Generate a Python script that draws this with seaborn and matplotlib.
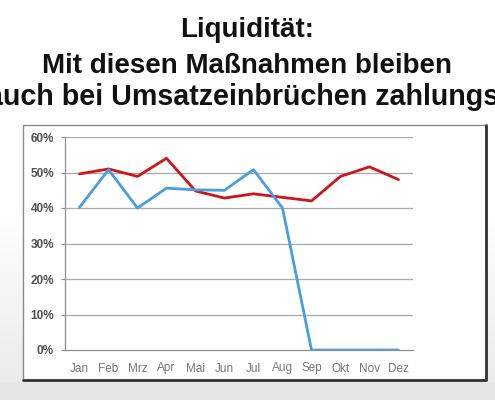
import numpy as np
import seaborn as sns
import matplotlib.pyplot as plt
import pandas as pd
from matplotlib.patches import Rectangle
from matplotlib.lines import Line2D

monate = ['Jan', 'Feb', 'Mrz', 'Apr', 'Mai', 'Jun', 'Jul', 'Aug', 'Sep', 'Okt', 'Nov', 'Dez']
reihe_rot = [49.6, 51, 48.9, 54, 44.8, 42.8, 44, 43, 42, 48.9, 51.6, 48]
reihe_blau = [40.2, 50.8, 40, 45.6, 45.1, 45, 50.8, 40, 0, 0, 0, 0]
y_ticks = [0, 10, 20, 30, 40, 50, 60]

df = pd.DataFrame({
    'Monat': monate * 2,
    'Wert': reihe_rot + reihe_blau,
    'Reihe': ['rot'] * 12 + ['blau'] * 12,
})

sns.set_style('white')
plt.rcParams['font.family'] = ['Liberation Sans', 'DejaVu Sans']

W, H = 495, 400
fig = plt.figure(figsize=(W / 100, H / 100), dpi=100)
fig.patch.set_facecolor('white')

# Hintergrund: Verlauf von weiss nach hellgrau, unten grauer Streifen
bg = fig.add_axes([0, 0, 1, 1])
bg.set_zorder(0)
py = np.arange(H)
grau = np.where(py < 200, 1.0, 1.0 - 0.08 * np.clip((py - 200) / 180, 0, 1))
grau = np.where(py >= 382, 0.90, grau)
bg.imshow(np.repeat(grau[:, None], 2, axis=1), cmap='gray', vmin=0, vmax=1,
          aspect='auto', extent=[0, 1, 0, 1])
bg.axis('off')

bx0, bx1, by0, by1 = 22.5 / W, 486 / W, 1 - 380 / H, 1 - 125 / H
fig.patches.append(Rectangle((bx0, by0), bx1 - bx0, by1 - by0, transform=fig.transFigure,
                             facecolor='white', edgecolor='#8a8a8a', lw=1.0, zorder=1))
fig.lines.append(Line2D([bx0, bx1, bx1], [by0, by0, by1], transform=fig.transFigure,
                        color='#333333', lw=2.0, zorder=2))

ax = fig.add_axes([65 / W, 50 / H, 348 / W, 213 / H])
ax.set_zorder(3)
ax.patch.set_alpha(0)

sns.lineplot(data=df, x='Monat', y='Wert', hue='Reihe', hue_order=['rot', 'blau'],
             palette={'rot': '#d01418', 'blau': '#4a9ee0'}, linewidth=2.0,
             legend=False, sort=False, ax=ax)

ax.set_xlim(-0.5, 11.5)
ax.set_ylim(0, 60)
ax.set_yticks(y_ticks)
ax.set_yticklabels([f'{v}%' for v in y_ticks], fontsize=8.5, fontweight='bold', color='#505050')
ax.set_xticks(range(12))
ax.set_xticklabels(monate, fontsize=8.5, color='#777777')
ax.set_xticks([i - 0.5 for i in range(13)], minor=True)
ax.tick_params(axis='x', which='major', length=0, pad=9)
ax.tick_params(axis='x', which='minor', length=3, color='#909090', width=0.8)
ax.tick_params(axis='y', which='major', length=3, color='#909090', width=0.8, pad=5, left=True)
ax.set_xlabel('')
ax.set_ylabel('')

for v in y_ticks[1:]:
    ax.axhline(v, color='#a8a8a8', lw=0.9, zorder=0)
for s in ['top', 'right']:
    ax.spines[s].set_visible(False)
for s in ['left', 'bottom']:
    ax.spines[s].set_color('#909090')
    ax.spines[s].set_linewidth(0.9)

titel = ['Liquidität:', 'Mit diesen Maßnahmen bleiben', 'auch bei Umsatzeinbrüchen zahlungsfähig']
fig.text(247 / W, 1 - 37 / H, titel[0], ha='center', va='baseline',
         fontsize=20, fontweight='bold', color='#111111')
fig.text(247 / W, 1 - 73 / H, titel[1], ha='center', va='baseline',
         fontsize=20, fontweight='bold', color='#111111')
fig.text(-13 / W, 1 - 105 / H, titel[2], ha='left', va='baseline',
         fontsize=20.6, fontweight='bold', color='#111111')

fig.savefig('out.png', dpi=100)
